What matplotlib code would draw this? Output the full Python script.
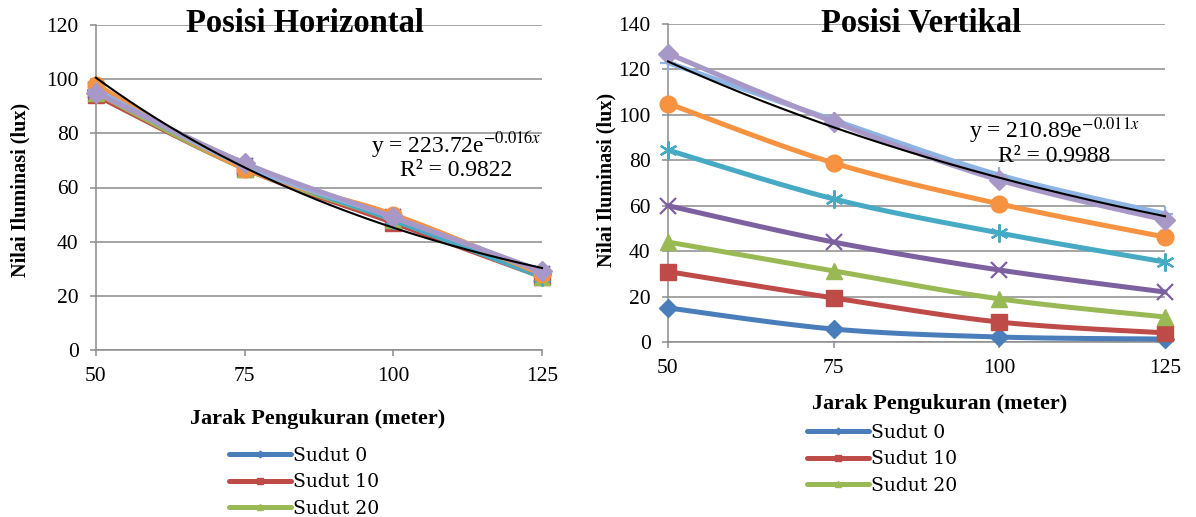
import numpy as np
import matplotlib
matplotlib.use("Agg")
import matplotlib.pyplot as plt
from matplotlib.lines import Line2D

# ---- data -------------------------------------------------------------
jarak = [50, 75, 100, 125]
x_ticks = [50, 75, 100, 125]
sudut_labels = ["Sudut 0", "Sudut 10", "Sudut 20", "Sudut 30",
                "Sudut 40", "Sudut 50", "Sudut 60", "Sudut 70"]

# Posisi Horizontal (lux)
h_sudut_0 = [96, 68, 48, 28]
h_sudut_10 = [94, 67, 47, 27]
h_sudut_20 = [95, 67, 48, 27]
h_sudut_30 = [96, 68, 49, 28]
h_sudut_40 = [96, 68, 48, 27]
h_sudut_50 = [98, 67, 50, 28]
h_sudut_60 = [96, 68, 49, 29]
h_sudut_70 = [95, 69, 49, 29]

# Posisi Vertikal (lux)
v_sudut_0 = [15, 5.7, 2.2, 1.3]
v_sudut_10 = [31, 19.4, 8.8, 4]
v_sudut_20 = [44, 31.3, 19, 11]
v_sudut_30 = [60, 44, 31.7, 22]
v_sudut_40 = [84.5, 63, 48, 35.2]
v_sudut_50 = [105, 78.8, 60.8, 46.2]
v_sudut_60 = [123, 97.7, 73.5, 56.4]
v_sudut_70 = [127, 96.9, 71.3, 53.7]

# exponential trendlines y = a * exp(b * x)
h_trend_a, h_trend_b, h_trend_r2 = 223.72, -0.016, 0.9822
v_trend_a, v_trend_b, v_trend_r2 = 210.89, -0.0107, 0.9988

h_series = [h_sudut_0, h_sudut_10, h_sudut_20, h_sudut_30,
            h_sudut_40, h_sudut_50, h_sudut_60, h_sudut_70]
v_series = [v_sudut_0, v_sudut_10, v_sudut_20, v_sudut_30,
            v_sudut_40, v_sudut_50, v_sudut_60, v_sudut_70]

# ---- styling ----------------------------------------------------------
colors = ["#4A7EBB", "#BE4B48", "#98B954", "#7D60A0",
          "#46AAC5", "#F69240", "#8EB4E3", "#A898C8"]
markers = ["D", "s", "^", "x", (6, 2, 0), "o", "+", "D"]
msizes = [9, 11, 11, 12, 13, 12, 12, 10]
open_marker = {"x", "+"}

SERIF = "Liberation Serif"
GRID = "#8c8c8c"
W, H = 1196, 517

plt.rcParams["font.family"] = [SERIF, "DejaVu Serif"]


def smooth(xs, ys, n=40):
    """Catmull-Rom style Bezier smoothing through the given points."""
    pts = np.column_stack([xs, ys]).astype(float)
    P = np.vstack([pts[0], pts, pts[-1]])
    out = []
    t = np.linspace(0, 1, n)[:, None]
    for i in range(1, len(P) - 2):
        p0, p1, p2, p3 = P[i - 1], P[i], P[i + 1], P[i + 2]
        c1 = p1 + (p2 - p0) / 6.0
        c2 = p2 - (p3 - p1) / 6.0
        seg = ((1 - t) ** 3) * p1 + 3 * ((1 - t) ** 2) * t * c1 \
            + 3 * (1 - t) * (t ** 2) * c2 + (t ** 3) * p2
        out.append(seg if i == 1 else seg[1:])
    return np.vstack(out)


def fx(px):
    return px / W


def fy(py):
    return 1 - py / H


fig = plt.figure(figsize=(W / 100, H / 100), dpi=100)
fig.patch.set_facecolor("white")

ax_h = fig.add_axes([fx(96), fy(350), fx(542) - fx(96), fy(25) - fy(350)])
ax_v = fig.add_axes([fx(668), fy(342), fx(1165) - fx(668), fy(24) - fy(342)])


def style_axes(ax, ymax):
    ax.set_xlim(50, 125)
    ax.set_ylim(0, ymax)
    ax.set_xticks(x_ticks)
    ax.set_yticks(np.arange(0, ymax + 1, 20))
    ax.yaxis.grid(True, color=GRID, lw=1.1)
    ax.set_axisbelow(True)
    for s in ("top", "right"):
        ax.spines[s].set_visible(False)
    for s in ("left", "bottom"):
        ax.spines[s].set_color(GRID)
        ax.spines[s].set_linewidth(1.1)
    ax.tick_params(direction="out", length=4.5, width=1.1, color=GRID,
                   labelsize=15.5, pad=8)
    for lab in ax.get_xticklabels() + ax.get_yticklabels():
        lab.set_fontfamily(SERIF)


def draw_series(ax, series):
    for i, ys in enumerate(series):
        curve = smooth(jarak, ys)
        ax.plot(curve[:, 0], curve[:, 1], color=colors[i], lw=3.6,
                solid_capstyle="round", clip_on=False, zorder=3 + i * 0.1)
        m = markers[i]
        if m in open_marker or isinstance(m, tuple):
            ax.plot(jarak, ys, ls="none", marker=m, ms=msizes[i],
                    mec=colors[i], mew=1.6, clip_on=False, zorder=3.05 + i * 0.1)
        else:
            ax.plot(jarak, ys, ls="none", marker=m, ms=msizes[i],
                    mfc=colors[i], mec=colors[i], clip_on=False,
                    zorder=3.05 + i * 0.1)


def draw_trend(ax, a, b):
    xs = np.linspace(50, 125, 200)
    ax.plot(xs, a * np.exp(b * xs), color="black", lw=1.5, zorder=6,
            clip_on=False)


style_axes(ax_h, 120)
style_axes(ax_v, 140)
draw_series(ax_h, h_series)
draw_series(ax_v, v_series)
draw_trend(ax_h, h_trend_a, h_trend_b)
draw_trend(ax_v, v_trend_a, v_trend_b)

# titles
fig.text(fx(305), fy(23), "Posisi Horizontal", ha="center", va="center",
         fontsize=23.5, fontweight="bold", family=SERIF, zorder=10)
fig.text(fx(921), fy(23), "Posisi Vertikal", ha="center", va="center",
         fontsize=23.5, fontweight="bold", family=SERIF, zorder=10)

# axis labels
for cx, cy in ((20, 190), (606, 180)):
    fig.text(fx(cx), fy(cy), "Nilai Iluminasi (lux)", rotation=90,
             ha="center", va="center", fontsize=14.5, fontweight="bold",
             family=SERIF)
fig.text(fx(318), fy(419), "Jarak Pengukuran (meter)", ha="center",
         va="center", fontsize=16, fontweight="bold", family=SERIF)
fig.text(fx(940), fy(404), "Jarak Pengukuran (meter)", ha="center",
         va="center", fontsize=16, fontweight="bold", family=SERIF)


# trendline equations
def trend_text(cx, cy, a, b, r2):
    fig.text(fx(cx), fy(cy), f"y = {a:.2f}e$^{{{b:.3f}x}}$".replace("-", "\u2212"),
             ha="center", va="center", fontsize=17, family=SERIF,
             math_fontfamily="stix", zorder=10)
    fig.text(fx(cx), fy(cy + 26), f"R\u00b2 = {r2:.4f}", ha="center",
             va="center", fontsize=17, family=SERIF, zorder=10)


trend_text(456, 145, h_trend_a, h_trend_b, h_trend_r2)
trend_text(1054, 131, v_trend_a, v_trend_b, v_trend_r2)

# legends: the first three entries fit below each chart
handles = []
for i, lab in enumerate(sudut_labels[:3]):
    m = markers[i]
    handles.append(Line2D([], [], color=colors[i], lw=3.6, marker=m,
                          ms=msizes[i] * 0.38, mfc=colors[i], mec=colors[i],
                          mew=1.0, solid_capstyle="round", label=lab))

for lx, ly in ((229, 447), (807, 424)):
    fig.legend(handles=handles, loc="upper left",
               bbox_to_anchor=(fx(lx), fy(ly)), frameon=False,
               prop={"family": "DejaVu Serif", "size": 13.5},
               handlelength=3.3, handletextpad=0.1, labelspacing=0.45,
               borderpad=0, borderaxespad=0)

fig.savefig("out.png", dpi=100)
